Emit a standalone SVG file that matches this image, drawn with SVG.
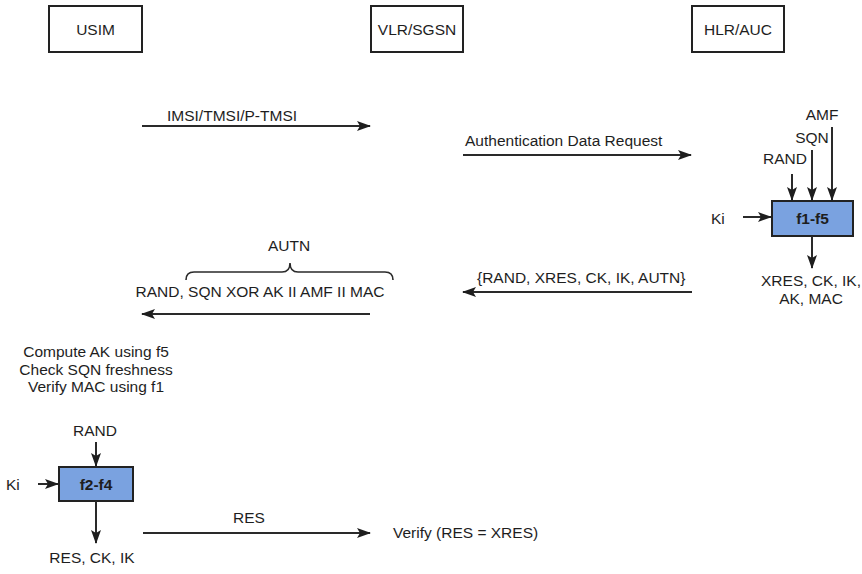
<svg xmlns="http://www.w3.org/2000/svg" width="862" height="574" viewBox="0 0 862 574">
  <style>
    text { font-family: "Liberation Sans", Arial, Helvetica, sans-serif; font-size: 15.5px; fill: #1e1e1e; }
    .c { text-anchor: middle; }
    .b { font-weight: bold; }
    .entity { fill: #ffffff; stroke: #222222; stroke-width: 2; }
    .func { fill: #7aa2e0; stroke: #222222; stroke-width: 2; }
    .msg { fill: none; stroke: #2a2a2a; stroke-width: 2; marker-end: url(#arrow); }
    .brace { fill: none; stroke: #2a2a2a; stroke-width: 1.6; }
  </style>
  <defs>
    <marker id="arrow" viewBox="0 0 14 10" refX="13" refY="5" markerWidth="14" markerHeight="10" markerUnits="userSpaceOnUse" orient="auto">
      <path d="M0,0 L14,5 L0,10 L3,5 Z" fill="#1e1e1e"/>
    </marker>
  </defs>
  <rect width="862" height="574" fill="#ffffff"/>

  <!-- network entities -->
  <g id="usim">
    <rect class="entity" x="49" y="6" width="93" height="46"/>
    <text class="c" x="95.5" y="35">USIM</text>
  </g>
  <g id="vlr-sgsn">
    <rect class="entity" x="371" y="6" width="92" height="46"/>
    <text class="c" x="417" y="35">VLR/SGSN</text>
  </g>
  <g id="hlr-auc">
    <rect class="entity" x="692" y="6" width="92" height="46"/>
    <text class="c" x="738" y="35">HLR/AUC</text>
  </g>

  <!-- authentication functions -->
  <g id="f1-f5">
    <rect class="func" x="772" y="201" width="81" height="35"/>
    <text class="c b" x="812.5" y="224">f1-f5</text>
  </g>
  <g id="f2-f4">
    <rect class="func" x="59" y="467" width="74" height="34"/>
    <text class="c b" x="96" y="490">f2-f4</text>
  </g>

  <!-- free-standing labels -->
  <g id="labels">
    <text class="c" x="822" y="120">AMF</text>
    <text class="c" x="812" y="143">SQN</text>
    <text class="c" x="785" y="164">RAND</text>
    <text x="711" y="224">Ki</text>
    <text class="c" x="811" y="286">XRES, CK, IK,</text>
    <text class="c" x="811" y="304">AK, MAC</text>
    <text class="c" x="289" y="251">AUTN</text>
    <text class="c" x="260" y="297">RAND, SQN XOR AK II AMF II MAC</text>
    <text class="c" x="96" y="357">Compute AK using f5</text>
    <text class="c" x="96" y="375">Check SQN freshness</text>
    <text class="c" x="96" y="392">Verify MAC using f1</text>
    <text class="c" x="95" y="436">RAND</text>
    <text x="6" y="490">Ki</text>
    <text class="c" x="92" y="563">RES, CK, IK</text>
    <text x="393" y="538">Verify (RES = XRES)</text>
  </g>

  <!-- messages and data flows -->
  <g id="connectors">
    <line class="msg" x1="142" y1="126" x2="370" y2="126"/>
    <text x="167" y="121">IMSI/TMSI/P-TMSI</text>

    <line class="msg" x1="463" y1="155" x2="691" y2="155"/>
    <text x="465" y="146">Authentication Data Request</text>

    <line class="msg" x1="792" y1="174" x2="792" y2="200"/>
    <line class="msg" x1="812" y1="150" x2="812" y2="200"/>
    <line class="msg" x1="832" y1="127" x2="832" y2="200"/>
    <line class="msg" x1="743" y1="217" x2="771" y2="217"/>
    <line class="msg" x1="812" y1="236" x2="812" y2="268"/>

    <line class="msg" x1="692" y1="292" x2="463" y2="292"/>
    <text x="477" y="283">{RAND, XRES, CK, IK, AUTN}</text>

    <path class="brace" d="M186,280 Q186,272 194,272 L282,272 Q290,272 290,263 Q290,272 298,272 L385,272 Q393,272 393,280"/>
    <line class="msg" x1="370" y1="314" x2="142" y2="314"/>

    <line class="msg" x1="96" y1="442" x2="96" y2="466"/>
    <line class="msg" x1="38" y1="484" x2="58" y2="484"/>
    <line class="msg" x1="96" y1="501" x2="96" y2="543"/>

    <line class="msg" x1="143" y1="533" x2="370" y2="533"/>
    <text x="233" y="523">RES</text>
  </g>
</svg>
